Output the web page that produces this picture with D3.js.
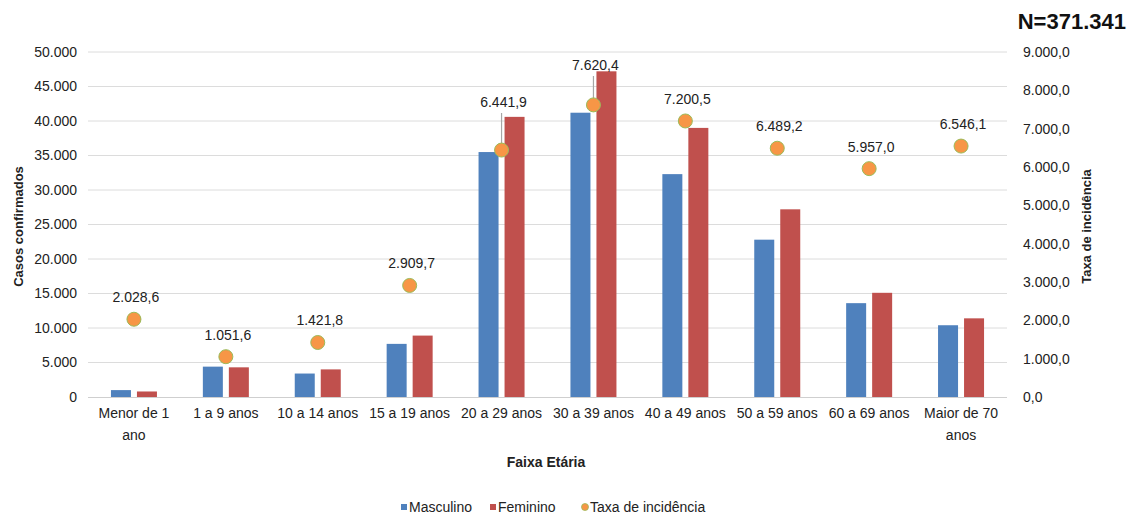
<!DOCTYPE html>
<html>
<head>
<meta charset="utf-8">
<script src="https://cdn.jsdelivr.net/npm/d3@7"></script>
<style>
  html, body { margin: 0; padding: 0; background: #fff; }
  svg { display: block; font-family: "Liberation Sans", Arial, sans-serif; }
</style>
</head>
<body>
<svg id="chart" width="1133" height="517"></svg>
<script>
// Casos confirmados por faixa etária e sexo, com taxa de incidência
const categories = [
  ["Menor de 1", "ano"], ["1 a 9 anos"], ["10 a 14 anos"], ["15 a 19 anos"],
  ["20 a 29 anos"], ["30 a 39 anos"], ["40 a 49 anos"], ["50 a 59 anos"],
  ["60 a 69 anos"], ["Maior de 70", "anos"]
];
const masculino = [1000, 4400, 3400, 7700, 35500, 41200, 32300, 22800, 13600, 10400];
const feminino  = [800, 4300, 4000, 8900, 40600, 47200, 39000, 27200, 15100, 11400];
const taxa      = [2028.6, 1051.6, 1421.8, 2909.7, 6441.9, 7620.4, 7200.5, 6489.2, 5957.0, 6546.1];
const leftTicks  = [0, 5000, 10000, 15000, 20000, 25000, 30000, 35000, 40000, 45000, 50000];
const rightTicks = [0, 1000, 2000, 3000, 4000, 5000, 6000, 7000, 8000, 9000];
const totalLabel = "N=371.341";

const colors = { masc: "#4F81BD", fem: "#C0504D", taxa: "#F79646", taxaStroke: "#9BBB59" };

const br = d3.formatLocale({ decimal: ",", thousands: ".", grouping: [3], currency: ["R$", ""] });
const fmtInt = br.format(",.0f");
const fmtDec = br.format(",.1f");

const svg = d3.select("#chart");
const plot = { left: 88, right: 1007, top: 52, bottom: 397 };

const x = d3.scaleBand().domain(d3.range(categories.length))
  .range([plot.left, plot.right]).paddingInner(0).paddingOuter(0);
const yL = d3.scaleLinear().domain([0, 50000]).range([plot.bottom, plot.top]);
const yR = d3.scaleLinear().domain([0, 9000]).range([plot.bottom, plot.top]);

// Gridlines
svg.append("g").selectAll("line").data(leftTicks.filter(d => d > 0)).join("line")
  .attr("x1", plot.left).attr("x2", plot.right)
  .attr("y1", d => yL(d)).attr("y2", d => yL(d))
  .attr("stroke", "#dcdcdc").attr("stroke-width", 1);

// Left axis
const axL = svg.append("g").attr("transform", `translate(${plot.left},0)`)
  .call(d3.axisLeft(yL).tickValues(leftTicks).tickFormat(fmtInt).tickSize(0).tickPadding(11));
axL.select(".domain").remove();
axL.selectAll("text").attr("font-size", 14).attr("fill", "#222")
  .style("font-family", "'Liberation Sans', Arial, sans-serif");

// Right axis
const axR = svg.append("g").attr("transform", `translate(${plot.right},0)`)
  .call(d3.axisRight(yR).tickValues(rightTicks).tickFormat(fmtDec).tickSize(0).tickPadding(16));
axR.select(".domain").remove();
axR.selectAll("text").attr("font-size", 14).attr("fill", "#222")
  .style("font-family", "'Liberation Sans', Arial, sans-serif");

// Bars
const groupW = 46;
const barW = 20;
const groups = svg.append("g").selectAll("g").data(categories).join("g")
  .attr("transform", (d, i) => `translate(${x(i) + x.bandwidth() / 2 - groupW / 2},0)`);
groups.append("rect")
  .attr("x", 0).attr("width", barW)
  .attr("y", (d, i) => yL(masculino[i])).attr("height", (d, i) => yL(0) - yL(masculino[i]))
  .attr("fill", colors.masc);
groups.append("rect")
  .attr("x", groupW - barW).attr("width", barW)
  .attr("y", (d, i) => yL(feminino[i])).attr("height", (d, i) => yL(0) - yL(feminino[i]))
  .attr("fill", colors.fem);

// Baseline
svg.append("line").attr("x1", plot.left).attr("x2", plot.right)
  .attr("y1", plot.bottom + 0.5).attr("y2", plot.bottom + 0.5)
  .attr("stroke", "#cfcfcf").attr("stroke-width", 1.2);

// Category labels
const xAx = svg.append("g");
categories.forEach((lines, i) => {
  const t = xAx.append("text").attr("x", x(i) + x.bandwidth() / 2).attr("y", 418)
    .attr("text-anchor", "middle").attr("font-size", 14).attr("fill", "#222");
  lines.forEach((ln, j) => t.append("tspan").attr("x", x(i) + x.bandwidth() / 2)
    .attr("dy", j === 0 ? 0 : 22).text(ln));
});

// Incidence rate labels (two are lifted above the bars with leader lines)
const lifted = { 4: 107, 5: 70 };
const cx = i => x(i) + x.bandwidth() / 2;
taxa.forEach((v, i) => {
  const my = yR(v);
  const ly = lifted[i] !== undefined ? lifted[i] : my - 17;
  if (lifted[i] !== undefined) {
    svg.append("line").attr("x1", cx(i)).attr("x2", cx(i))
      .attr("y1", ly + 6).attr("y2", my - 4)
      .attr("stroke", "#a6a6a6").attr("stroke-width", 1.2);
  }
  svg.append("text").attr("x", cx(i) + 2).attr("y", ly)
    .attr("text-anchor", "middle").attr("font-size", 14).attr("fill", "#222")
    .text(fmtDec(v));
});

// Incidence rate markers
svg.append("g").selectAll("circle").data(taxa).join("circle")
  .attr("cx", (d, i) => cx(i)).attr("cy", d => yR(d)).attr("r", 7)
  .attr("fill", colors.taxa).attr("stroke", colors.taxaStroke).attr("stroke-width", 1);

// Axis titles
svg.append("text").attr("transform", `translate(23,${(plot.top + plot.bottom) / 2 + 2}) rotate(-90)`)
  .attr("text-anchor", "middle").attr("font-size", 13).attr("font-weight", "bold")
  .attr("fill", "#222").text("Casos confirmados");
svg.append("text").attr("transform", `translate(1091,${(plot.top + plot.bottom) / 2 + 2}) rotate(-90)`)
  .attr("text-anchor", "middle").attr("font-size", 13).attr("font-weight", "bold")
  .attr("fill", "#222").text("Taxa de incidência");
svg.append("text").attr("x", 546).attr("y", 467).attr("text-anchor", "middle")
  .attr("font-size", 14).attr("font-weight", "bold").attr("fill", "#222").text("Faixa Etária");

// Total
svg.append("text").attr("x", 1126).attr("y", 29).attr("text-anchor", "end")
  .attr("font-size", 22).attr("font-weight", "bold").attr("fill", "#111").text(totalLabel);

// Legend
const legend = [
  { label: "Masculino", color: colors.masc, shape: "rect", x: 401 },
  { label: "Feminino", color: colors.fem, shape: "rect", x: 490 },
  { label: "Taxa de incidência", color: colors.taxa, shape: "circle", x: 582 }
];
const lg = svg.append("g");
legend.forEach(d => {
  if (d.shape === "rect") {
    lg.append("rect").attr("x", d.x).attr("y", 504).attr("width", 6).attr("height", 6).attr("fill", d.color);
  } else {
    lg.append("circle").attr("cx", d.x + 3).attr("cy", 507).attr("r", 3.5)
      .attr("fill", d.color).attr("stroke", colors.taxaStroke).attr("stroke-width", 0.8);
  }
  lg.append("text").attr("x", d.x + 8).attr("y", 512).attr("font-size", 14).attr("fill", "#222").text(d.label);
});
</script>
</body>
</html>
